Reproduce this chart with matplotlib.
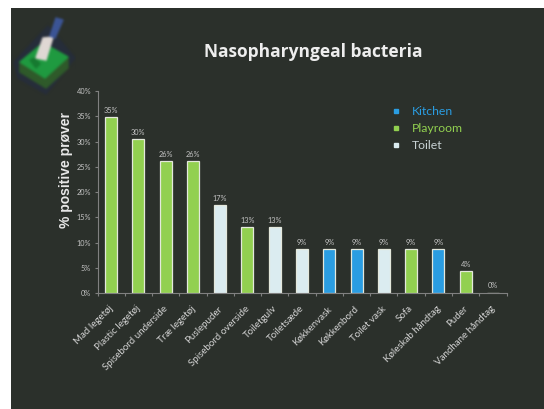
import numpy as np
import matplotlib
matplotlib.use('Agg')
import matplotlib.pyplot as plt
from matplotlib.lines import Line2D
from matplotlib.patches import Polygon, Rectangle
from matplotlib.transforms import ScaledTranslation

categories = ['Mad legetøj', 'Plastic legetøj', 'Spisebord underside', 'Træ legetøj',
              'Puslepuder', 'Spisebord overside', 'Toiletgulv', 'Toiletsæde',
              'Køkkenvask', 'Køkkenbord', 'Toilet vask', 'Sofa',
              'Køleskab håndtag', 'Puder', 'Vandhane håndtag']
values = [34.8, 30.4, 26.1, 26.1, 17.4, 13.0, 13.0, 8.7, 8.7, 8.7, 8.7, 8.7, 8.7, 4.3, 0.0]
labels = ['35%', '30%', '26%', '26%', '17%', '13%', '13%', '9%', '9%', '9%', '9%', '9%', '9%', '4%', '0%']
rooms = ['Playroom', 'Playroom', 'Playroom', 'Playroom', 'Toilet', 'Playroom', 'Toilet', 'Toilet',
         'Kitchen', 'Kitchen', 'Toilet', 'Playroom', 'Kitchen', 'Playroom', 'Playroom']
room_names = ['Kitchen', 'Playroom', 'Toilet']
room_colors = {'Kitchen': '#2a9de2', 'Playroom': '#92d050', 'Toilet': '#dbecf0'}
y_ticks = [0, 5, 10, 15, 20, 25, 30, 35, 40]

BG = '#2b302b'
W, H = 544, 409


# logo: klods med vatpind, tegnet for sig og sloret bagefter
def make_logo():
    f = plt.figure(figsize=(0.64, 0.88), dpi=100, facecolor=BG)
    a = f.add_axes([0, 0, 1, 1])
    a.set_xlim(12, 76)
    a.set_ylim(96, 8)
    a.axis('off')
    a.add_patch(Polygon([(14, 62), (48, 26), (75, 58), (46, 94), (18, 78)], color='#262d3a'))
    a.add_patch(Polygon([(20, 62), (45, 78), (68, 57), (68, 68), (46, 88), (20, 72)], color='#2f5a2a'))
    a.add_patch(Polygon([(20, 62), (43, 43), (68, 57), (45, 78)], color='#1f9a40'))
    a.add_patch(Polygon([(30, 60), (35, 58), (40, 64), (36, 68)], color='#167a30'))
    a.add_patch(Polygon([(36, 58), (43, 38), (53, 37), (46, 60)], color='#e0d8d4'))
    a.add_patch(Polygon([(50, 36), (56, 18), (63, 20), (55, 38)], color='#3c5596'))
    f.canvas.draw()
    img = np.asarray(f.canvas.buffer_rgba())[:, :, :3].astype(float)
    plt.close(f)
    for _ in range(3):
        img = (img + np.roll(img, 1, 0) + np.roll(img, -1, 0) + np.roll(img, 1, 1) + np.roll(img, -1, 1)) / 5
    return img.astype(np.uint8)


fig = plt.figure(figsize=(W / 100, H / 100), dpi=100, facecolor='white')
fig.patches.append(Rectangle((11 / W, 0), 1 - 11 / W, 1 - 8 / H, transform=fig.transFigure,
                             facecolor=BG, edgecolor='none', zorder=-5))

ax = fig.add_axes([97.5 / W, 1 - 293 / H, 409 / W, 202 / H])
ax.patch.set_alpha(0)

x = np.arange(len(categories))
colors = [room_colors[r] for r in rooms]
ax.bar(x, values, width=0.44, color=colors, edgecolor='#e4e8dc', linewidth=0.9)

for xi, v, lab in zip(x, values, labels):
    ax.text(xi, v + 0.7, lab, ha='center', va='bottom', fontsize=5.3, color='#c4c4c4', family='Lato')

ax.set_xlim(-0.5, len(categories) - 0.5)
ax.set_ylim(0, 40)
ax.set_yticks(y_ticks)
ax.set_yticklabels([f'{t}%' for t in y_ticks], fontsize=5.3, color='#c4c4c4', family='Lato')
ax.set_xticks(np.arange(len(categories) + 1) - 0.5)
ax.set_xticklabels([])
ax.set_xticks(x, minor=True)
ax.set_xticklabels(categories, minor=True, rotation=45, ha='right', rotation_mode='anchor',
                   fontsize=7, color='#d4d4d4', family='Lato')
ax.tick_params(axis='x', which='minor', length=0, pad=8)
ax.tick_params(axis='both', which='major', length=2.5, width=0.8, color='#808080', pad=2)
shift = ScaledTranslation(-2.5 / 100, 0, fig.dpi_scale_trans)
for t in ax.get_xticklabels(minor=True):
    t.set_transform(t.get_transform() + shift)
for side in ['top', 'right']:
    ax.spines[side].set_visible(False)
for side in ['left', 'bottom']:
    ax.spines[side].set_color('#808080')
    ax.spines[side].set_linewidth(0.8)

handles = [Line2D([], [], linestyle='none', marker='s', markersize=3,
                  color=room_colors[r], label=r) for r in room_names]
leg = ax.legend(handles=handles, loc='upper left', bbox_to_anchor=(384 / W, 1 - 106 / H),
                bbox_transform=fig.transFigure, frameon=False, handletextpad=0.25,
                labelspacing=0.5, borderpad=0, borderaxespad=0,
                prop={'family': 'Lato', 'size': 8.8})
for txt, r in zip(leg.get_texts(), room_names):
    txt.set_color('#c8d2d4' if r == 'Toilet' else room_colors[r])

fig.text(313 / W, 1 - 52 / H, 'Nasopharyngeal bacteria', ha='center', va='center',
         fontsize=12.5, fontweight='bold', color='#eeeeee', family='Open Sans')
fig.text(66 / W, 1 - 170 / H, '% positive prøver', rotation=90, ha='center', va='center',
         fontsize=10, fontweight='bold', color='#e8e8e8', family='Liberation Sans')

logo = fig.add_axes([12 / W, 1 - 96 / H, 64 / W, 88 / H], zorder=3)
logo.imshow(make_logo(), interpolation='bilinear', aspect='auto')
logo.axis('off')

fig.savefig('out.png', dpi=100)
